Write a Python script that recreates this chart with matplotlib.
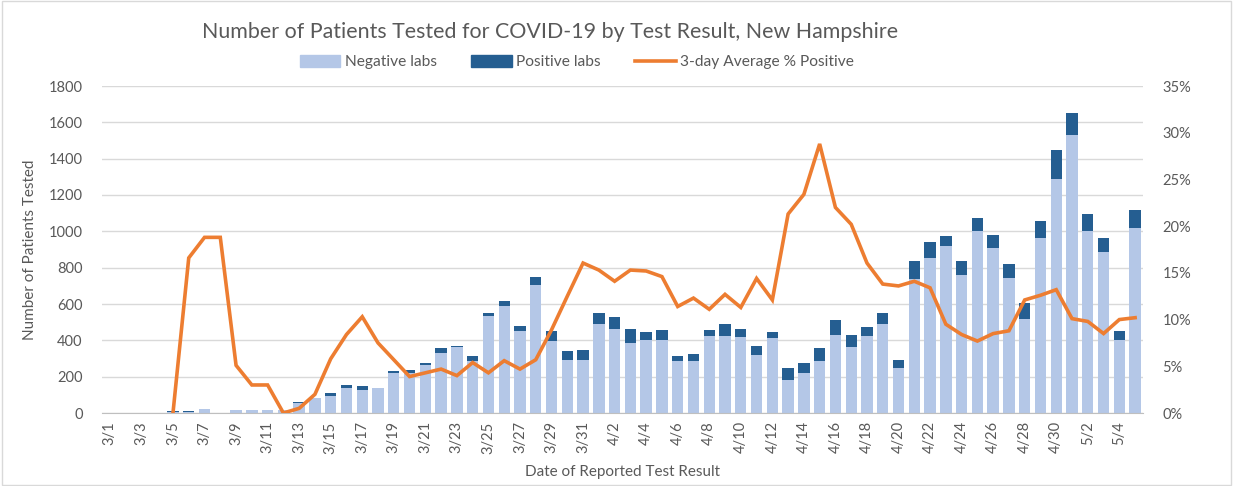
import matplotlib.pyplot as plt
from matplotlib.patches import Rectangle, Patch
from matplotlib.lines import Line2D
from matplotlib.ticker import FuncFormatter
import numpy as np

# ---- data ----
dates = ([f"3/{d}" for d in range(1, 32)] +
         [f"4/{d}" for d in range(1, 31)] +
         [f"5/{d}" for d in range(1, 6)])

negative = [0, 0, 0, 0, 8, 8, 20, 0, 16, 15, 15, 15, 55, 80, 95, 138, 128, 135, 220, 222,
            262, 330, 361, 288, 532, 587, 450, 706, 394, 290, 293,
            492, 464, 385, 400, 403, 284, 284, 422, 422, 416, 317, 413, 180, 220, 284,
            431, 363, 422, 490, 248, 739, 855, 917, 761, 1000, 908, 743, 517, 963, 1288,
            1532, 1004, 886, 400, 1016]

positive = [0, 0, 0, 0, 1, 1, 3, 0, 3, 1, 1, 1, 5, 3, 15, 16, 19, 3, 11, 13,
            13, 26, 6, 24, 18, 29, 27, 42, 56, 49, 52,
            58, 64, 77, 44, 52, 32, 41, 33, 68, 46, 53, 31, 68, 55, 74,
            79, 66, 51, 60, 46, 98, 84, 55, 74, 73, 74, 77, 88, 94, 161,
            119, 89, 75, 50, 100]

pct_positive = [np.nan, np.nan, np.nan, np.nan, 0.0, 16.6, 18.8, 18.8, 5.1, 3.0, 3.0, 0.0,
                0.5, 2.0, 5.8, 8.4, 10.3, 7.5, 5.7, 3.9,
                4.3, 4.7, 4.0, 5.4, 4.3, 5.6, 4.7, 5.7, 8.9, 12.5, 16.05,
                15.3, 14.1, 15.3, 15.2, 14.6, 11.4, 12.3, 11.1, 12.7, 11.3, 14.4, 12.1,
                21.3, 23.4, 28.8, 22.0, 20.2, 16.05, 13.8, 13.6, 14.1, 13.4, 9.5, 8.4,
                7.7, 8.5, 8.8, 12.1, 12.6, 13.2, 10.1, 9.8, 8.5, 10.0, 10.2]

NEG_COLOR = "#B4C7E7"
POS_COLOR = "#255E91"
LINE_COLOR = "#ED7D31"
TEXT_COLOR = "#595959"
GRID_COLOR = "#D9D9D9"

plt.rcParams['font.family'] = ['Lato', 'DejaVu Sans']

fig = plt.figure(figsize=(12.33, 4.86), dpi=100)
ax = fig.add_axes([102 / 1233, 73 / 486, 1041 / 1233, 327 / 486])

x = np.arange(len(dates))
ax.bar(x, negative, width=0.72, color=NEG_COLOR, zorder=2)
ax.bar(x, positive, width=0.72, bottom=negative, color=POS_COLOR, zorder=2)

ax.set_xlim(-0.5, len(dates) - 0.5)
ax.set_ylim(0, 1800)
ax.set_yticks(range(0, 1801, 200))
ax.grid(axis='y', color=GRID_COLOR, linewidth=1.0, zorder=0)
ax.set_axisbelow(True)
for side in ['top', 'right', 'left']:
    ax.spines[side].set_visible(False)
ax.spines['bottom'].set_color("#BFBFBF")
ax.tick_params(axis='y', length=0, pad=14, labelsize=10.5, labelcolor=TEXT_COLOR)
ax.set_xticks(x[::2])
ax.set_xticklabels(dates[::2], rotation=90)
ax.tick_params(axis='x', length=0, pad=6, labelsize=10.5, labelcolor=TEXT_COLOR)
ax.set_ylabel("Number of Patients Tested", fontsize=11, color=TEXT_COLOR, labelpad=8)
ax.set_xlabel("Date of Reported Test Result", fontsize=11, color=TEXT_COLOR, labelpad=8)

ax2 = ax.twinx()
ax2.plot(x, pct_positive, color=LINE_COLOR, linewidth=2.6, solid_joinstyle='miter', zorder=3)
ax2.set_ylim(0, 35)
ax2.set_yticks(range(0, 36, 5))
ax2.yaxis.set_major_formatter(FuncFormatter(lambda v, _: f"{v:.0f}%"))
ax2.tick_params(axis='y', length=0, pad=14, labelsize=10.5, labelcolor=TEXT_COLOR)
for side in ['top', 'right', 'left', 'bottom']:
    ax2.spines[side].set_visible(False)

fig.text(0.446, 0.935, "Number of Patients Tested for COVID-19 by Test Result, New Hampshire",
         ha='center', va='center', fontsize=15.4, color=TEXT_COLOR)

handles = [Patch(color=NEG_COLOR, label="Negative labs"),
           Patch(color=POS_COLOR, label="Positive labs"),
           Line2D([0], [0], color=LINE_COLOR, linewidth=2.6, label="3-day Average % Positive")]
leg = fig.legend(handles=handles, loc='center', bbox_to_anchor=(0.468, 0.872), ncol=3,
                 frameon=False, fontsize=11.2, handlelength=2.6, handleheight=0.8,
                 columnspacing=2.2, handletextpad=0.3)
for t in leg.get_texts():
    t.set_color(TEXT_COLOR)

fig.patches.append(Rectangle((0.002, 0.002), 0.996, 0.996, transform=fig.transFigure,
                             fill=False, edgecolor=GRID_COLOR, linewidth=1.0))

fig.savefig("out.png", dpi=100)
